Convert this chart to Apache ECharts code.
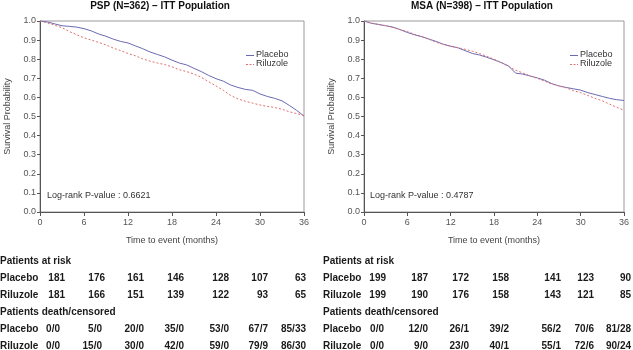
<!DOCTYPE html>
<html><head><meta charset="utf-8">
<script src="https://cdn.jsdelivr.net/npm/echarts@6/dist/echarts.min.js"></script>
<style>html,body{margin:0;padding:0;background:#fff}#c{width:633px;height:350px}</style>
</head><body><div id="c"></div>
<script>
// ---- data ----
const months = [0,1,2,3,4,5,6,7,8,9,10,11,12,13,14,15,16,17,18,19,20,21,22,23,24,25,26,27,28,29,30,31,32,33,34,35,36];
const pspPlacebo = [1.0,0.995,0.985,0.975,0.972,0.968,0.96,0.948,0.932,0.92,0.905,0.893,0.885,0.87,0.855,0.838,0.825,0.812,0.795,0.78,0.77,0.752,0.735,0.715,0.698,0.685,0.665,0.652,0.642,0.637,0.618,0.605,0.595,0.582,0.558,0.532,0.502];
const pspRiluzole = [1.0,0.99,0.978,0.965,0.945,0.928,0.912,0.9,0.888,0.875,0.858,0.845,0.83,0.818,0.802,0.79,0.78,0.772,0.76,0.745,0.735,0.722,0.705,0.682,0.66,0.637,0.61,0.592,0.58,0.57,0.56,0.553,0.547,0.538,0.525,0.515,0.505];
const msaPlacebo = [1.0,0.988,0.982,0.975,0.968,0.955,0.94,0.928,0.918,0.905,0.893,0.878,0.868,0.86,0.845,0.83,0.822,0.81,0.797,0.782,0.765,0.727,0.722,0.712,0.702,0.69,0.672,0.66,0.652,0.645,0.638,0.625,0.615,0.605,0.595,0.588,0.584];
const msaRiluzole = [1.0,0.99,0.982,0.976,0.965,0.955,0.945,0.93,0.918,0.905,0.888,0.878,0.868,0.86,0.852,0.842,0.83,0.815,0.8,0.783,0.762,0.742,0.728,0.712,0.7,0.685,0.67,0.66,0.65,0.635,0.625,0.61,0.595,0.582,0.565,0.548,0.532];
const xTicks = [0,6,12,18,24,30,36];
const yTicks = ['0.0','0.1','0.2','0.3','0.4','0.5','0.6','0.7','0.8','0.9','1.0'];
const titles = ['PSP (N=362) \u2013 ITT Population','MSA (N=398) \u2013 ITT Population'];
const pValues = ['Log-rank P-value : 0.6621','Log-rank P-value : 0.4787'];
const groups = ['Placebo','Riluzole'];
const pspRiskPlacebo = ['181','176','161','146','128','107','63'];
const pspRiskRiluzole = ['181','166','151','139','122','93','65'];
const pspDcPlacebo = ['0/0','5/0','20/0','35/0','53/0','67/7','85/33'];
const pspDcRiluzole = ['0/0','15/0','30/0','42/0','59/0','79/9','86/30'];
const msaRiskPlacebo = ['199','187','172','158','141','123','90'];
const msaRiskRiluzole = ['199','190','176','158','143','121','85'];
const msaDcPlacebo = ['0/0','12/0','26/1','39/2','56/2','70/6','81/28'];
const msaDcRiluzole = ['0/0','9/0','23/0','40/1','55/1','72/6','90/24'];

// ---- layout ----
const FONT = '"Liberation Sans", Arial, sans-serif';
const BLUE = '#6a6ab4', RED = '#e07070';
const grids = [{left:40, right:329, top:21, bottom:138},{left:364, right:9, top:21, bottom:138}];
const legendX = [246, 570];
const legendY = [55, 64];
const tableLabelX = [0, 323];
const riskEnds = [[65,105,144,184,229,268,306],[386,428,469,509,561,594,631]];
const dcEnds = [[60,102,144,184,229,268,306],[384,428,469,509,561,594,631]];
const rowY = {hdr1:261, r1:278, r2:295, hdr2:312, r3:329, r4:346};

const chart = echarts.init(document.getElementById('c'), null, {renderer:'canvas'});
const pair = (xs, ys) => xs.map((x,i)=>[x, ys[i]]);

function xAxis(i){
  return {type:'value', gridIndex:i, min:0, max:36, interval:6,
    name:'Time to event (months)', nameLocation:'middle', nameGap:24,
    nameTextStyle:{fontFamily:FONT, fontSize:9, color:'#444'},
    axisLine:{show:true, lineStyle:{color:'#555', width:1}},
    axisTick:{show:true, length:4, lineStyle:{color:'#555'}},
    axisLabel:{fontFamily:FONT, fontSize:9, color:'#555', margin:6},
    splitLine:{show:false}};
}
function yAxis(i){
  return {type:'value', gridIndex:i, min:0, max:1, interval:0.1,
    name:'Survival Probability', nameLocation:'middle', nameGap:28,
    nameTextStyle:{fontFamily:FONT, fontSize:9, color:'#444'},
    axisLine:{show:true, lineStyle:{color:'#555', width:1}},
    axisTick:{show:true, length:3, lineStyle:{color:'#555'}},
    axisLabel:{fontFamily:FONT, fontSize:9, color:'#555', margin:4,
      formatter:(v)=>yTicks[Math.round(v*10)]},
    splitLine:{show:false}};
}
function line(name, i, ys, color, dashed){
  return {name, type:'line', xAxisIndex:i, yAxisIndex:i, data:pair(months, ys),
    symbol:'none', smooth:false, animation:false,
    lineStyle:{color, width:1, type: dashed ? [2,2] : 'solid'}, itemStyle:{color}};
}
function txt(x, y, s, align, bold){
  return {type:'text', x, y, style:{text:s, fill:'#1a1a1a', font:(bold?'bold ':'')+'10px '+FONT,
    textAlign:align, textVerticalAlign:'middle'}};
}
const graphics = [];
const tables = [
  [pspRiskPlacebo, pspRiskRiluzole, pspDcPlacebo, pspDcRiluzole],
  [msaRiskPlacebo, msaRiskRiluzole, msaDcPlacebo, msaDcRiluzole]];
tables.forEach((t, k) => {
  const lx = tableLabelX[k];
  graphics.push(txt(lx, rowY.hdr1, 'Patients at risk', 'left', true));
  graphics.push(txt(lx, rowY.r1, groups[0], 'left', true));
  graphics.push(txt(lx, rowY.r2, groups[1], 'left', true));
  graphics.push(txt(lx, rowY.hdr2, 'Patients death/censored', 'left', true));
  graphics.push(txt(lx, rowY.r3, groups[0], 'left', true));
  graphics.push(txt(lx, rowY.r4, groups[1], 'left', true));
  t[0].forEach((s,j)=>graphics.push(txt(riskEnds[k][j], rowY.r1, s, 'right', true)));
  t[1].forEach((s,j)=>graphics.push(txt(riskEnds[k][j], rowY.r2, s, 'right', true)));
  t[2].forEach((s,j)=>graphics.push(txt(dcEnds[k][j], rowY.r3, s, 'right', true)));
  t[3].forEach((s,j)=>graphics.push(txt(dcEnds[k][j], rowY.r4, s, 'right', true)));
});
// p-value texts
[47, 370].forEach((x,k)=>graphics.push({type:'text', x, y:196,
  style:{text:pValues[k], fill:'#333', font:'9px '+FONT, textAlign:'left', textVerticalAlign:'middle'}}));
// legends (manual, to show solid / dashed line samples)
legendX.forEach(lx=>{
  groups.forEach((g,j)=>{
    graphics.push({type:'line', shape:{x1:lx, y1:legendY[j]+0.5, x2:lx+8, y2:legendY[j]+0.5},
      style:{stroke: j===0 ? BLUE : RED, lineWidth:1, lineDash: j===0 ? null : [2,1.5]}});
    graphics.push({type:'text', x:lx+10, y:legendY[j],
      style:{text:g, fill:'#333', font:'9px '+FONT, textAlign:'left', textVerticalAlign:'middle'}});
  });
});

chart.setOption({
  animation:false,
  textStyle:{fontFamily:FONT},
  title: titles.map((t,k)=>({text:t, left: k===0 ? 155 : 477, top:-4, textAlign:'center',
    textStyle:{fontFamily:FONT, fontSize:10, fontWeight:'bold', color:'#111'}})),
  grid: grids.map(g=>Object.assign({show:true, borderColor:'#9a9a9a', borderWidth:1, backgroundColor:'transparent'}, g)),
  xAxis:[xAxis(0), xAxis(1)],
  yAxis:[yAxis(0), yAxis(1)],
  series:[
    line(groups[0], 0, pspPlacebo, BLUE, false),
    line(groups[1], 0, pspRiluzole, RED, true),
    line(groups[0], 1, msaPlacebo, BLUE, false),
    line(groups[1], 1, msaRiluzole, RED, true)
  ],
  graphic: graphics
});
</script></body></html>
